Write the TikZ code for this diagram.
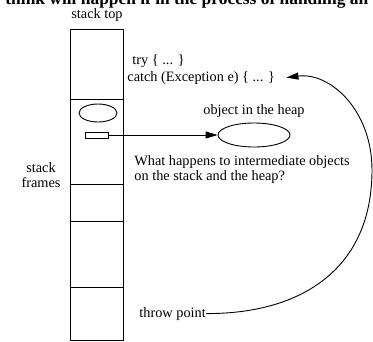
\documentclass[tikz,border=0pt]{standalone}
\usepackage{fontspec}
\setmainfont{Liberation Serif}
\usetikzlibrary{arrows.meta, positioning, shapes.geometric}

\begin{document}
\begin{tikzpicture}[
    x=1pt, y=-1pt,
    >={Triangle[length=12pt, width=7pt]},
    line width=0.9pt,
    lbl/.style={inner sep=0pt, font=\fontsize{14.3}{15}\selectfont},
    obj/.style={draw, ellipse, inner sep=0pt},
]

%--- Page frame (reference size in px) ---
\useasboundingbox (0,0) rectangle (373,341);

%--- Coordinates ---
\def\stL{70}     % stack left edge
\def\stR{123}    % stack right edge
\def\stT{29}     % stack top
\def\stB{340}    % stack bottom

%--- Clipped heading at the top ---
\node[lbl, anchor=base west, font=\fontsize{17.4}{20}\selectfont\bfseries]
    (heading) at (5,4) {think will happen if in the process of handling an};

%--- Stack column and its frames ---
\draw (\stL,\stT) rectangle (\stR,\stB);
\draw (\stL,99)  -- (\stR,99);
\draw (\stL,184) -- (\stR,184);
\draw (\stL,221) -- (\stR,221);
\draw (\stL,287) -- (\stR,287);

\node[lbl, anchor=base] (stacktop) at (97,18) {stack top};
\node[lbl, align=center] (frames) at (41,175) {stack\\frames};

%--- Objects inside the stack frame ---
\node[obj, minimum width=38pt, minimum height=18pt] (localobj) at (98,113) {};
\node[draw, inner sep=0pt, minimum width=23pt, minimum height=6pt]
    (objref) at (96.5,135) {};

%--- Object in the heap ---
\node[obj, minimum width=72pt, minimum height=24pt] (heapobj) at (254,135) {};
\node[lbl, above=5pt of heapobj] (heaplbl) {object in the heap};
\draw[->] (objref.east) -- (heapobj.west);

%--- Handler code ---
\node[lbl, anchor=base west] (try) at (132,64) {try \{ ... \}};
\node[lbl, anchor=base west] (catch) at (127,81) {catch (Exception e) \{ ... \}};
\coordinate[right=11pt of catch] (catchtip);

%--- Question text (base = last line) ---
\node[lbl, anchor=base west, align=left] (question) at (134,180)
    {What happens to intermediate objects\\on the stack and the heap?};

%--- Throw point and unwinding arc ---
\node[lbl, anchor=base west] (throw) at (139,317) {throw point};
\draw[->] (throw.east) .. controls (300,314) and (372,270) .. (372,170)
    .. controls (372,110) and (330,72) .. (catchtip);

\end{tikzpicture}
\end{document}
